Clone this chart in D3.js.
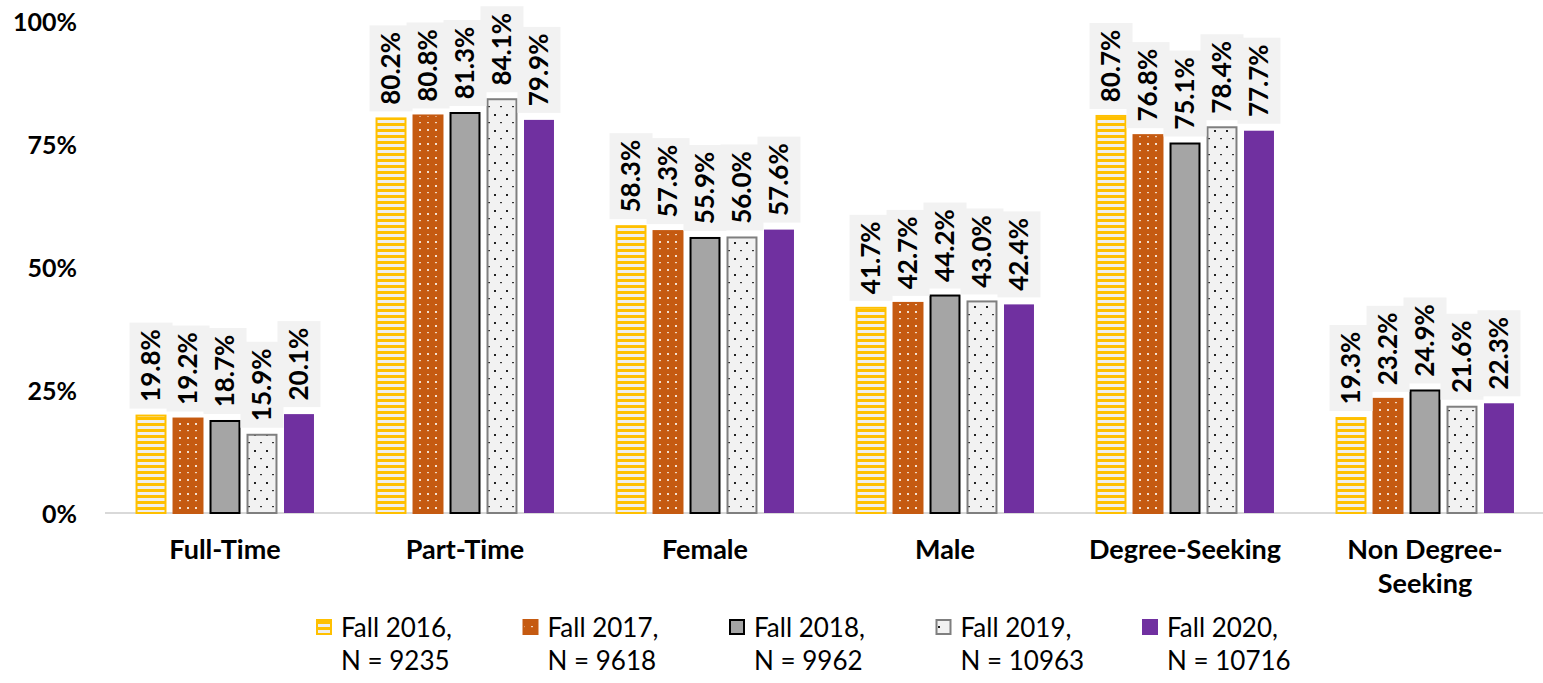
<!DOCTYPE html>
<html><head><meta charset="utf-8">
<script src="https://cdn.jsdelivr.net/npm/d3@7"></script>
<style>body{margin:0;background:#fff} svg{display:block}</style>
</head><body><svg id="chart" width="1543" height="683"></svg>
<script>
// ---- data ----
const categories = ["Full-Time", "Part-Time", "Female", "Male", "Degree-Seeking", "Non Degree-Seeking"];
const seriesKeys = ["Fall 2016", "Fall 2017", "Fall 2018", "Fall 2019", "Fall 2020"];
const seriesN = ["N = 9235", "N = 9618", "N = 9962", "N = 10963", "N = 10716"];
const fall2016 = [19.8, 80.2, 58.3, 41.7, 80.7, 19.3];
const fall2017 = [19.2, 80.8, 57.3, 42.7, 76.8, 23.2];
const fall2018 = [18.7, 81.3, 55.9, 44.2, 75.1, 24.9];
const fall2019 = [15.9, 84.1, 56.0, 43.0, 78.4, 21.6];
const fall2020 = [20.1, 79.9, 57.6, 42.4, 77.7, 22.3];
const yTicks = [0, 25, 50, 75, 100];

const seriesValues = [fall2016, fall2017, fall2018, fall2019, fall2020];

// ---- styles ----
const styles = [
  {fill: "url(#p2016)", stroke: "#FFC000", sw: 2},
  {fill: "url(#p2017)", stroke: "#C55A11", sw: 2},
  {fill: "#A5A5A5", stroke: "#000000", sw: 2},
  {fill: "url(#p2019)", stroke: "#7F7F7F", sw: 2},
  {fill: "#7030A0", stroke: "none", sw: 0}
];

const svg = d3.select("#chart");
const defs = svg.append("defs");

// yellow horizontal stripes
let p = defs.append("pattern").attr("id", "p2016").attr("patternUnits", "userSpaceOnUse")
  .attr("width", 6).attr("height", 6);
p.append("rect").attr("width", 6).attr("height", 6).attr("fill", "#FFC000");
p.append("rect").attr("y", 0).attr("width", 6).attr("height", 3).attr("fill", "#EEEEEE");

// orange with white dots
p = defs.append("pattern").attr("id", "p2017").attr("patternUnits", "userSpaceOnUse")
  .attr("width", 8).attr("height", 14);
p.append("rect").attr("width", 8).attr("height", 14).attr("fill", "#C55A11");
p.append("rect").attr("x", 3).attr("y", 3).attr("width", 2).attr("height", 2).attr("fill", "#F4E0D0");
p.append("rect").attr("x", 3).attr("y", 10).attr("width", 2).attr("height", 1.2).attr("fill", "#F0D6C0");

// light with sparse black dots
p = defs.append("pattern").attr("id", "p2019").attr("patternUnits", "userSpaceOnUse")
  .attr("width", 12).attr("height", 16);
p.append("rect").attr("width", 12).attr("height", 16).attr("fill", "#F2F2F2");
p.append("rect").attr("x", 2).attr("y", 2).attr("width", 2).attr("height", 2).attr("fill", "#222");
p.append("rect").attr("x", 8).attr("y", 10).attr("width", 2).attr("height", 1.2).attr("fill", "#333");

// ---- scales ----
const x0 = d3.scaleBand().domain(categories).range([105, 1545]).paddingInner(0).paddingOuter(0);
const x1 = d3.scaleBand().domain(seriesKeys).range([24, 216]).paddingInner(0.19).paddingOuter(0.19);
const y = d3.scaleLinear().domain([0, 100]).range([513, 21]);

// ---- y axis ----
const yAxis = svg.append("g").attr("transform", "translate(77,0)")
  .call(d3.axisLeft(y).tickValues(yTicks).tickFormat(d => d + "%").tickSize(0).tickPadding(0));
yAxis.select(".domain").remove();
yAxis.selectAll("text").attr("font-family", "Lato, sans-serif").attr("font-weight", "bold")
  .attr("font-size", 25).attr("fill", "#000").attr("dy", "0.36em");

// ---- baseline ----
svg.append("line").attr("x1", x0.range()[0]).attr("x2", 1543).attr("y1", y(0)).attr("y2", y(0))
  .attr("stroke", "#D9D9D9").attr("stroke-width", 2);

// ---- bars ----
seriesKeys.forEach((key, si) => {
  const st = styles[si];
  const g = svg.append("g");
  categories.forEach((cat, ci) => {
    const v = seriesValues[si][ci];
    const bx = x0(cat) + x1(key);
    const bw = x1.bandwidth();
    if (st.sw > 0) {
      g.append("rect").attr("x", bx + 0.5).attr("width", bw - 1)
        .attr("y", y(v)).attr("height", y(0) - y(v))
        .attr("fill", st.fill).attr("stroke", st.stroke).attr("stroke-width", st.sw);
    } else {
      g.append("rect").attr("x", bx).attr("width", bw)
        .attr("y", y(v)).attr("height", y(0) - y(v)).attr("fill", st.fill);
    }
  });
});

// ---- data labels ----
const boxW = 43, boxH = 86, gap = 7;
seriesKeys.forEach((key, si) => {
  const g = svg.append("g");
  categories.forEach((cat, ci) => {
    const v = seriesValues[si][ci];
    const cx = x0(cat) + x1(key) + x1.bandwidth() / 2;
    const bottom = y(v) - gap;
    g.append("rect").attr("x", cx - boxW / 2).attr("y", bottom - boxH)
      .attr("width", boxW).attr("height", boxH).attr("fill", "#F2F2F2");
    g.append("text")
      .attr("transform", `translate(${cx},${bottom - boxH / 2}) rotate(-90)`)
      .attr("text-anchor", "middle").attr("dy", "0.36em")
      .attr("font-family", "Lato, sans-serif").attr("font-weight", "bold").attr("font-size", 26)
      .attr("fill", "#000")
      .text(v.toFixed(1) + "%");
  });
});

// ---- category labels ----
categories.forEach(cat => {
  const cx = x0(cat) + x0.bandwidth() / 2;
  const lines = cat.includes(" ") ? cat.replace(/-(?=\w+$)/, "-\n").split("\n") : [cat];
  const t = svg.append("text").attr("text-anchor", "middle")
    .attr("font-family", "Lato, sans-serif").attr("font-weight", "bold").attr("font-size", 27)
    .attr("fill", "#000");
  lines.forEach((ln, i) => {
    t.append("tspan").attr("x", cx).attr("y", 559 + i * 34).text(ln);
  });
});

// ---- legend ----
seriesKeys.forEach((key, si) => {
  const st = styles[si];
  const lx = 316 + si * 206.5;
  const g = svg.append("g");
  if (st.sw > 0) {
    g.append("rect").attr("x", lx + 1).attr("y", 620).attr("width", 14).attr("height", 14)
      .attr("fill", st.fill).attr("stroke", st.stroke).attr("stroke-width", 2);
  } else {
    g.append("rect").attr("x", lx).attr("y", 619).attr("width", 16).attr("height", 16).attr("fill", st.fill);
  }
  const t = g.append("text").attr("font-family", "Lato, sans-serif").attr("font-size", 26).attr("fill", "#000");
  t.append("tspan").attr("x", lx + 25).attr("y", 637).text(key + ",");
  t.append("tspan").attr("x", lx + 25).attr("y", 670).text(seriesN[si]);
});
</script>
</body></html>
